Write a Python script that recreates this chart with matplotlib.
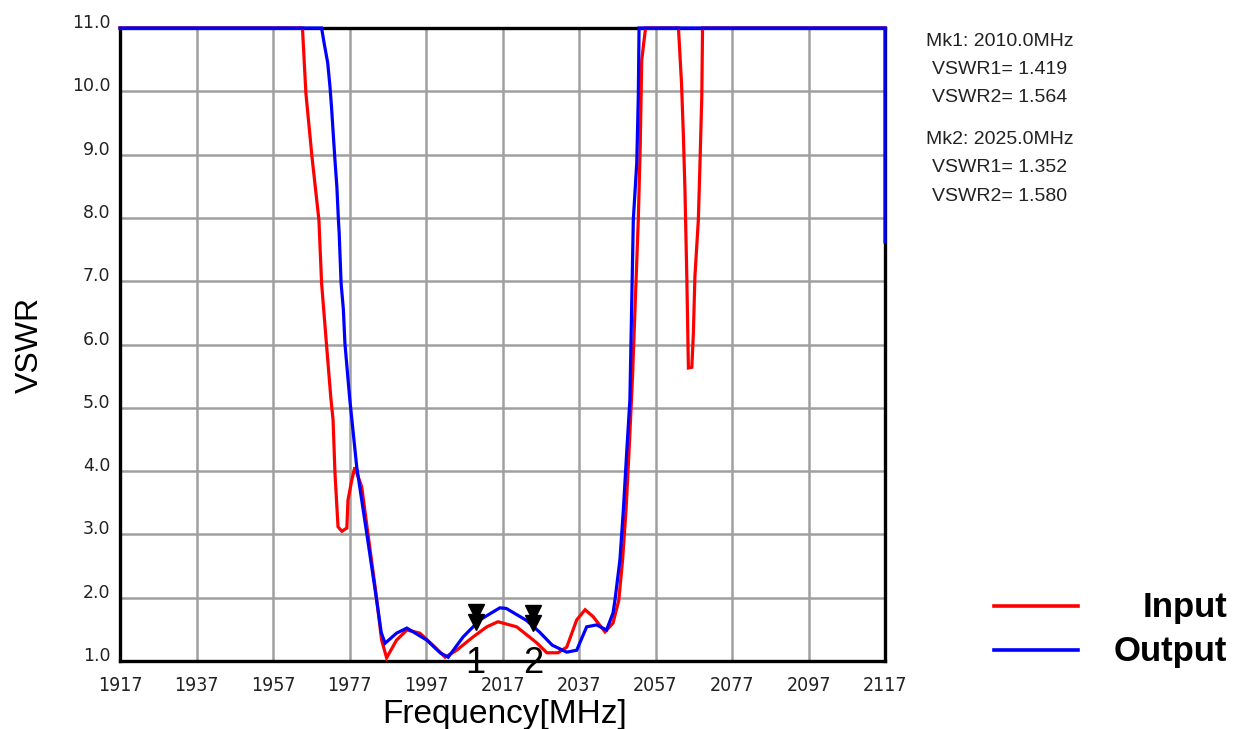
import matplotlib
matplotlib.use("Agg")
import matplotlib.pyplot as plt
from matplotlib.lines import Line2D
from matplotlib.transforms import ScaledTranslation, offset_copy

# ---------------- data ----------------
input_freq = [1917, 1964.7, 1965.6, 1967.2, 1969.0, 1969.7, 1971.0, 1972.1, 1972.7, 1973.2,
              1974.0, 1975.0, 1976.3, 1976.6, 1977.6, 1978.4, 1980.2, 1981.8, 1983.7, 1985.4,
              1986.7, 1989.3, 1992.0, 1995.4, 1998.8, 2002.0, 2005.0, 2009.3, 2012.9, 2015.8,
              2020.7, 2025.9, 2028.6, 2031.5, 2033.8, 2036.4, 2038.6, 2040.7, 2043.8, 2045.9,
              2047.4, 2048.4, 2049.3, 2050.1, 2051.0, 2052.5, 2053.0, 2053.4, 2053.8, 2054.4,
              2063.0, 2063.8, 2064.3, 2064.7, 2065.2, 2065.6, 2066.5, 2066.9, 2067.3, 2068.2,
              2068.6, 2069.1, 2069.3, 2117]
input_vswr = [11.0, 11.0, 9.97, 8.96, 7.97, 6.97, 5.99, 5.17, 4.81, 3.97,
              3.12, 3.05, 3.10, 3.54, 3.86, 4.06, 3.75, 3.02, 2.17, 1.33,
              1.05, 1.33, 1.49, 1.44, 1.25, 1.06, 1.17, 1.38, 1.54, 1.62,
              1.54, 1.29, 1.13, 1.13, 1.22, 1.65, 1.81, 1.70, 1.46, 1.60,
              1.96, 2.60, 3.39, 4.33, 5.50, 7.97, 9.12, 10.49, 10.70, 11.0,
              11.0, 10.13, 9.28, 8.44, 7.02, 5.63, 5.64, 6.18, 7.07, 7.97,
              8.80, 9.91, 11.0, 11.0]

output_freq = [1917, 1969.7, 1970.4, 1971.3, 1971.9, 1972.3, 1972.8, 1973.2, 1973.7, 1974.1,
               1974.3, 1974.8, 1975.4, 1975.8, 1976.7, 1977.1, 1978.9, 1981.5, 1984.1, 1985.3,
               1986.3, 1989.3, 1992.0, 1997.2, 2000.7, 2002.8, 2006.7, 2011.1, 2016.3, 2018.0,
               2023.3, 2026.8, 2030.0, 2033.8, 2036.4, 2039.0, 2041.6, 2044.2, 2045.9, 2046.4,
               2047.7, 2048.6, 2049.5, 2050.3, 2051.2, 2052.1, 2052.5, 2052.7, 2117, 2117]
output_vswr = [11.0, 11.0, 10.75, 10.45, 10.07, 9.75, 9.28, 8.91, 8.49, 7.97,
               7.76, 6.97, 6.55, 6.02, 5.39, 5.12, 4.06, 3.02, 1.96, 1.45,
               1.28, 1.44, 1.52, 1.33, 1.13, 1.06, 1.38, 1.65, 1.84, 1.83,
               1.64, 1.45, 1.25, 1.14, 1.17, 1.54, 1.57, 1.49, 1.76, 1.96,
               2.60, 3.39, 4.33, 5.12, 7.97, 8.87, 9.91, 11.0, 11.0, 7.62]

series_names = ["Input", "Output"]
series_colors = ["#ff0000", "#0000ff"]

marker_names = ["1", "2"]
marker_freq = [2010.0, 2025.0]
marker_vswr1 = [1.419, 1.352]
marker_vswr2 = [1.564, 1.580]

x_ticks = [1917, 1937, 1957, 1977, 1997, 2017, 2037, 2057, 2077, 2097, 2117]
y_ticks = [1.0, 2.0, 3.0, 4.0, 5.0, 6.0, 7.0, 8.0, 9.0, 10.0, 11.0]

# ---------------- figure ----------------
W, H, DPI = 1243, 729, 100
fig = plt.figure(figsize=(W / DPI, H / DPI), dpi=DPI)
ax = fig.add_axes([120 / W, 1 - 661 / H, 765 / W, 633 / H])
ax.set_xlim(x_ticks[0], x_ticks[-1])
ax.set_ylim(y_ticks[0], y_ticks[-1])

ax.grid(True, color="#a0a0a0", linewidth=1.8)
ax.set_axisbelow(True)
for s in ax.spines.values():
    s.set_color("black")
    s.set_linewidth(2.4)
    s.set_zorder(2.5)

ax.plot(input_freq, input_vswr, color=series_colors[0], lw=2.3, zorder=3, clip_on=False,
        solid_joinstyle="miter")
ax.plot(output_freq, output_vswr, color=series_colors[1], lw=2.3, zorder=3.1, clip_on=False,
        solid_joinstyle="miter")

# ticks
ax.set_xticks(x_ticks)
ax.set_xticklabels([str(t) for t in x_ticks], fontfamily="DejaVu Sans", fontstretch="condensed",
                   fontsize=14, color="#222222")
ax.set_yticks(y_ticks)
ax.set_yticklabels([f"{t:.1f}" for t in y_ticks],
                   fontfamily=["DejaVu Sans"], fontsize=12.5, color="#222222")
ax.tick_params(axis="x", length=0, pad=11)
ax.tick_params(axis="y", length=0, pad=7)
for lab in ax.get_yticklabels():
    lab.set_transform(lab.get_transform() + ScaledTranslation(0, 7 / DPI, fig.dpi_scale_trans))

ax.set_xlabel("Frequency[MHz]", fontfamily=["Liberation Sans", "DejaVu Sans"], fontsize=24)
ax.xaxis.set_label_coords(0.503, -0.06)
ax.set_ylabel("VSWR", fontfamily=["Liberation Sans", "DejaVu Sans"], fontsize=23)
ax.yaxis.set_label_coords(-0.098, 0.5)

# markers
ms = 12
for name, f, v1, v2 in zip(marker_names, marker_freq, marker_vswr1, marker_vswr2):
    tip = (v1 + v2) / 2
    for k in range(2):
        tr = offset_copy(ax.transData, fig=fig, x=0, y=ms / 2 + k * 7, units="points")
        ax.plot([f], [tip], marker="v", ms=ms, color="black", transform=tr,
                zorder=4, clip_on=False, linestyle="none")
    ax.text(f, y_ticks[0] - 0.19, name, ha="center", va="baseline", fontsize=26,
            fontfamily=["Liberation Sans", "DejaVu Sans"], color="black", zorder=5, clip_on=False)

# marker readout text
readout = []
for i, f in enumerate(marker_freq):
    readout.append([f"Mk{i + 1}: {f:.1f}MHz", f"VSWR1= {marker_vswr1[i]:.3f}",
                    f"VSWR2= {marker_vswr2[i]:.3f}"])
ys = [[42, 70, 98], [140, 168, 197]]
for block, yp_list in zip(readout, ys):
    for line, yp in zip(block, yp_list):
        fig.text(1000 / W, 1 - yp / H, line, ha="center", va="center", fontsize=14,
                 fontfamily=["Liberation Sans", "DejaVu Sans"], color="#222222")

# legend (manual)
leg_y = [606, 650]
for name, col, yp in zip(series_names, series_colors, leg_y):
    fig.add_artist(Line2D([994 / W, 1078 / W], [1 - yp / H, 1 - yp / H], color=col, lw=2.6))
    fig.text(1227 / W, 1 - (yp + 1) / H, name, ha="right", va="center", fontsize=25,
             fontweight="bold", fontfamily=["Liberation Sans", "DejaVu Sans"], color="black")

fig.savefig("out.png", dpi=DPI)
